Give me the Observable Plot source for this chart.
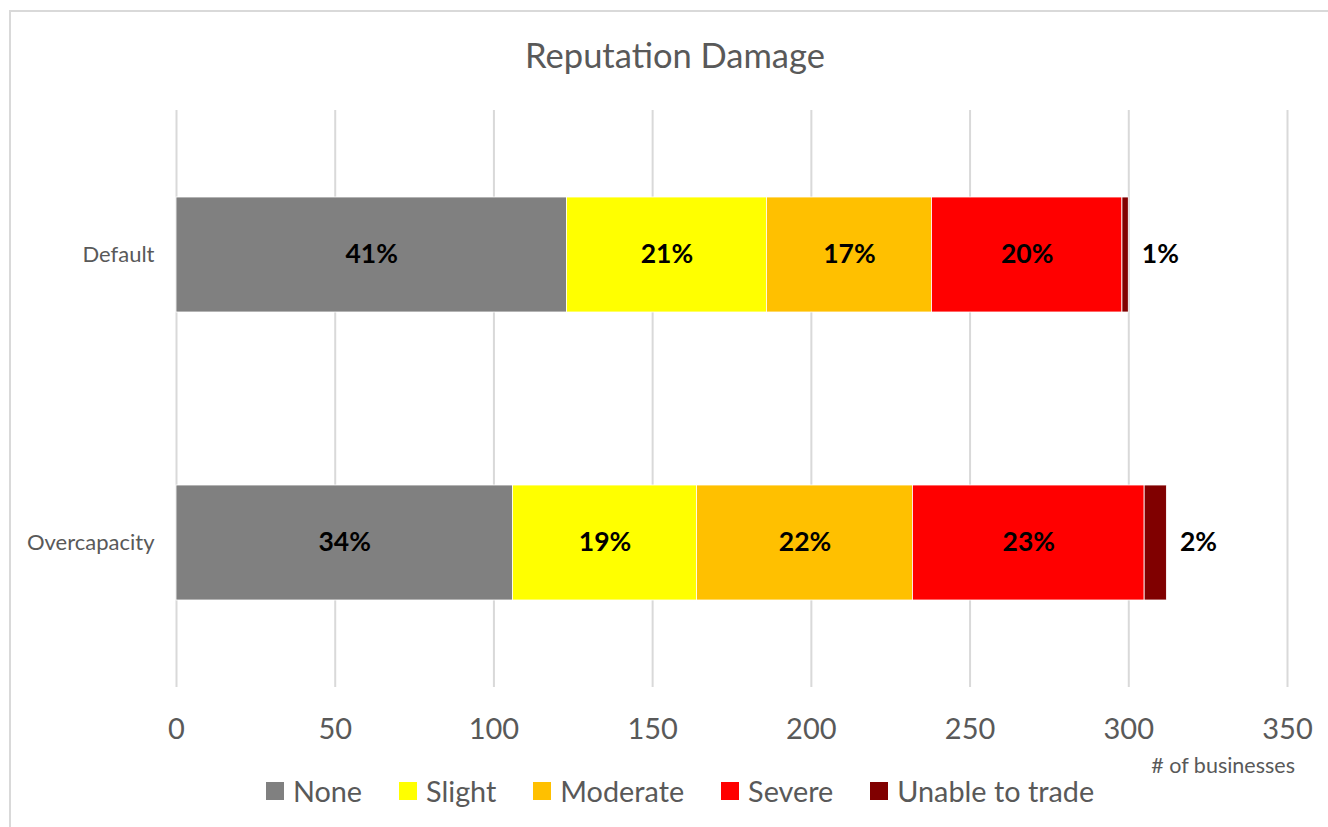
<!DOCTYPE html>
<html>
<head>
<meta charset="utf-8">
<script src="https://cdn.jsdelivr.net/npm/d3@7"></script>
<script src="https://cdn.jsdelivr.net/npm/@observablehq/plot@0.6"></script>
<style>
  html, body { margin: 0; padding: 0; background: #fff; }
  body { width: 1328px; height: 827px; overflow: hidden; font-family: Lato, "Open Sans", sans-serif; color: #595959; }
  #wrap { position: relative; width: 1328px; height: 827px; }
  #frame { position: absolute; left: 9px; top: 10px; width: 1340px; height: 840px; border: 2px solid #d9d9d9; box-sizing: border-box; }
  #title { position: absolute; left: 0; top: 33px; width: 1350px; text-align: center; font-size: 34.5px; line-height: 44px; color: #595959; }
  #chart { position: absolute; left: 0; top: 0; }
  #xlabel { position: absolute; right: 33px; top: 752px; font-size: 21.5px; line-height: 26px; color: #595959; }
  #legend { position: absolute; left: 0; top: 772px; width: 1360px; display: flex; justify-content: center; gap: 0; font-size: 28.8px; line-height: 38px; color: #595959; }
  .item { display: flex; align-items: center; margin: 0 18.5px; }
  .sw { width: 18px; height: 18px; margin-right: 9px; }
</style>
</head>
<body>
<div id="wrap">
  <div id="frame"></div>
  <div id="title">Reputation Damage</div>
  <div id="chart"></div>
  <div id="xlabel"># of businesses</div>
  <div id="legend"></div>
</div>
<script>
const categories = ["Default", "Overcapacity"];
const levels = ["None", "Slight", "Moderate", "Severe", "Unable to trade"];
const colors = ["#808080", "#FFFF00", "#FFC000", "#FF0000", "#800000"];
const defaultValues = [123, 63, 52, 60, 2];
const overcapacityValues = [106, 58, 68, 73, 7];
const xTicks = [0, 50, 100, 150, 200, 250, 300, 350];

const series = {Default: defaultValues, Overcapacity: overcapacityValues};
const rows = [];
for (const c of categories) {
  const vals = series[c];
  const total = d3.sum(vals);
  vals.forEach((v, i) => rows.push({category: c, level: levels[i], value: v, pct: Math.round(v / total * 100) + "%"}));
}
const inside = rows.map(d => ({...d, label: d.level === "Unable to trade" ? "" : d.pct}));
const lastLabels = categories.map(c => ({category: c, total: d3.sum(series[c]), pct: rows.find(r => r.category === c && r.level === "Unable to trade").pct}));

const plot = Plot.plot({
  width: 1328,
  height: 760,
  marginLeft: 176,
  marginRight: 41,
  marginTop: 110,
  marginBottom: 73,
  style: {fontFamily: "Lato, 'Open Sans', sans-serif", background: "transparent", overflow: "visible"},
  x: {domain: [0, 350], ticks: xTicks},
  y: {domain: categories, paddingInner: 0.6, paddingOuter: 0.3},
  color: {domain: levels, range: colors},
  marks: [
    Plot.gridX(xTicks, {stroke: "#d9d9d9", strokeOpacity: 1, strokeWidth: 2}),
    Plot.axisX({ticks: xTicks, tickSize: 0, tickPadding: 31, fontSize: 29, fill: "#595959", label: null}),
    Plot.axisY({tickSize: 0, tickPadding: 22, fontSize: 22, fill: "#595959", label: null}),
    Plot.barX(rows, Plot.stackX({x: "value", y: "category", fill: "level", stroke: "white", strokeWidth: 0.8, order: levels})),
    Plot.text(inside, Plot.stackX({x: "value", y: "category", z: "level", text: "label", order: levels, fontSize: 26.5, fontWeight: "bold", fill: "black"})),
    Plot.text(lastLabels, {x: "total", y: "category", text: "pct", textAnchor: "start", dx: 13, fontSize: 26.5, fontWeight: "bold", fill: "black"})
  ]
});
document.getElementById("chart").appendChild(plot);

const legend = document.getElementById("legend");
levels.forEach((l, i) => {
  const it = document.createElement("div");
  it.className = "item";
  const sw = document.createElement("div");
  sw.className = "sw";
  sw.style.background = colors[i];
  const t = document.createElement("span");
  t.textContent = l;
  it.appendChild(sw); it.appendChild(t);
  legend.appendChild(it);
});
</script>
</body>
</html>
